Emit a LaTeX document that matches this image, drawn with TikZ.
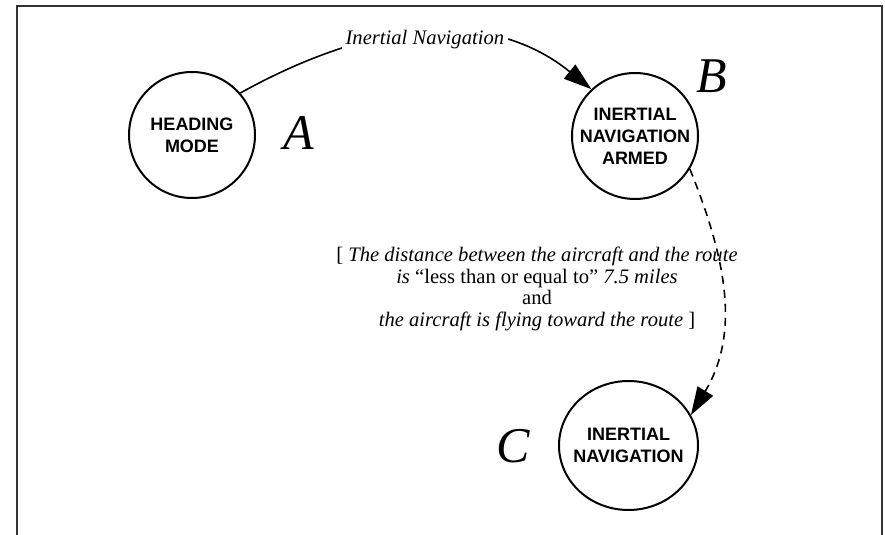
\documentclass[tikz,border=0pt]{standalone}
\usepackage{fontspec}
\setmainfont{Liberation Serif}
\setsansfont{Liberation Sans}
\usetikzlibrary{shapes.geometric,arrows.meta}

\begin{document}
\begin{tikzpicture}[x=0.5pt,y=0.5pt,
	state/.style={draw,circle,line width=1pt,inner sep=0pt,minimum size=63pt,align=center,font=\sffamily\bfseries\fontsize{9}{11}\selectfont},
	letter/.style={inner sep=0pt,font=\itshape\fontsize{25}{30}\selectfont},
	trans/.style={line width=0.8pt,-{Triangle[length=14pt,width=9pt]}},
	lbl/.style={fill=white,inner xsep=2pt,inner ysep=6pt,font=\itshape\fontsize{10.3}{12}\selectfont}]
		\useasboundingbox (0,0) rectangle (885,-535);
		\draw[line width=1.3pt,black!80] (17,-535) -- (17,-6) -- (882,-6) -- (882,-535);
		
		\node[state] (A) at (192,-135) {HEADING\\MODE};
		\node[state] (B) at (635,-136) {INERTIAL\\NAVIGATION\\ARMED};
		\node[state,ellipse,inner xsep=-6pt,minimum width=69.5pt,minimum height=64.5pt] (C) at (628.5,-445.5) {INERTIAL\\NAVIGATION};
		
		\node[letter] (a) at (299,-133) {A};
		\node[letter] (b) at (712,-76.5) {B};
		\node[letter] (c) at (513,-446) {C};
		
		\node[align=center,font=\fontsize{10.3}{10.7}\selectfont] (g) at (537,-289) {[ \textit{The distance between the aircraft and the route}\\
			\textit{is} ``less than or equal to'' \textit{7.5 miles}\\
			and\\
			\textit{the aircraft is flying toward the route} ]};
		
		\draw[trans] (A.41) to[out=29,in=141] node[lbl,pos=0.5,xshift=2pt,yshift=-3pt] {Inertial Navigation} (B.133);
		\draw[trans,dashed,dash pattern=on 4pt off 3pt] (B.-31.5) to[out=-68,in=59] (C.26);
\end{tikzpicture}
\end{document}
